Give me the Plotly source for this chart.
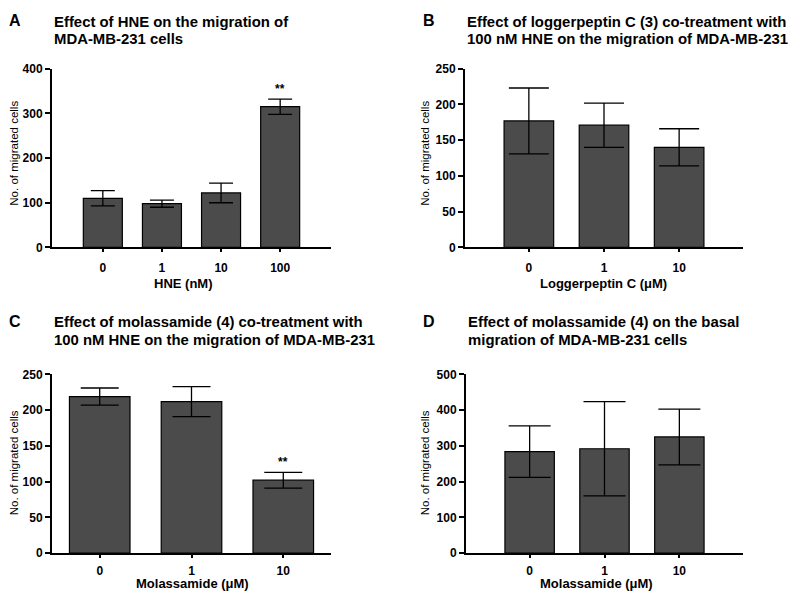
import plotly.graph_objects as go

# -- Panel A: HNE dose
hne_doses = ["0", "1", "10", "100"]
hne_cells = [110, 98, 122, 315]
hne_err = [17, 8, 22, 17]

# -- Panel B: loggerpeptin C + 100 nM HNE
logger_doses = ["0", "1", "10"]
logger_cells = [177, 171, 140]
logger_err = [46, 31, 26]

# -- Panel C: molassamide + 100 nM HNE
mola_hne_doses = ["0", "1", "10"]
mola_hne_cells = [219, 212, 102]
mola_hne_err = [12, 21, 11]

# -- Panel D: molassamide basal
mola_doses = ["0", "1", "10"]
mola_cells = [284, 292, 325]
mola_err = [72, 132, 78]

W, H = 800, 600
OFF = 8  # the page puts the figure 8 px in from the top-left corner
FONT = "Liberation Sans, Arial, sans-serif"
BAR_FILL = "#4b4b4b"


def px(x):
    return (x - OFF) / W


def py(y):
    return 1 - (y - OFF) / H


panels = [
    dict(cats=hne_doses, vals=hne_cells, errs=hne_err, ymax=400, dtick=100,
         xdom=(52, 331), ydom=(63, 246), cap=12, pad=0.86, stars=[3], so=5),
    dict(cats=logger_doses, vals=logger_cells, errs=logger_err, ymax=250, dtick=50,
         xdom=(465, 743), ydom=(63, 246), cap=20, pad=0.85, stars=[], so=5),
    dict(cats=mola_hne_doses, vals=mola_hne_cells, errs=mola_hne_err, ymax=250, dtick=50,
         xdom=(52, 331), ydom=(376, 559), cap=19, pad=0.52, stars=[2], so=2),
    dict(cats=mola_doses, vals=mola_cells, errs=mola_err, ymax=500, dtick=100,
         xdom=(466, 743), ydom=(376, 559), cap=21, pad=0.85, stars=[], so=2),
]

fig = go.Figure()
layout = {}
annotations = []

for i, p in enumerate(panels, start=1):
    xa = "x" if i == 1 else f"x{i}"
    ya = "y" if i == 1 else f"y{i}"
    n = len(p["cats"])
    fig.add_trace(go.Bar(
        x=list(range(n)), y=p["vals"], xaxis=xa, yaxis=ya,
        width=0.66,
        marker=dict(color=BAR_FILL, line=dict(color="black", width=1.2)),
        error_y=dict(type="data", array=p["errs"], visible=True,
                     color="black", thickness=1.3, width=p["cap"]),
        showlegend=False, hoverinfo="skip",
    ))
    layout[f"xaxis{'' if i == 1 else i}"] = dict(
        domain=[px(p["xdom"][0]), px(p["xdom"][1])],
        anchor=ya, range=[-p["pad"], n - 1 + p["pad"]],
        tickmode="array", tickvals=list(range(n)), ticktext=p["cats"],
        showline=True, linecolor="black", linewidth=2,
        ticks="outside", ticklen=3, tickwidth=1.5, tickcolor="black",
        ticklabelstandoff=p["so"],
        showgrid=False, zeroline=False,
        tickfont=dict(family=FONT, size=12, color="black", weight="bold"),
    )
    layout[f"yaxis{'' if i == 1 else i}"] = dict(
        domain=[py(p["ydom"][1]), py(p["ydom"][0])],
        anchor=xa, range=[0, p["ymax"]], dtick=p["dtick"],
        showline=True, linecolor="black", linewidth=2,
        ticks="outside", ticklen=5, tickwidth=1.5, tickcolor="black",
        showgrid=False, zeroline=False,
        tickfont=dict(family=FONT, size=12, color="black", weight="bold"),
    )
    for s in p["stars"]:
        annotations.append(dict(
            x=s, y=p["vals"][s] + p["errs"][s], xref=xa, yref=ya,
            text="**", showarrow=False, yanchor="bottom", yshift=1,
            font=dict(family=FONT, size=12, color="black", weight="bold"),
        ))

# -- Panel letters (level with the first title line)
letters = [("A", 15, 14), ("B", 429, 14), ("C", 15, 322), ("D", 429, 322)]
for txt, x, y in letters:
    annotations.append(dict(
        x=px(x), y=py(y), xref="paper", yref="paper", text=txt, showarrow=False,
        xanchor="center", yanchor="middle",
        font=dict(family=FONT, size=16, color="black", weight="bold"),
    ))

# -- Titles, one annotation per line
title_lines = [
    ("Effect of HNE on the migration of", 52, 15),
    ("MDA-MB-231 cells", 52, 33),
    ("Effect of loggerpeptin C (3) co-treatment with", 465, 15),
    ("100 nM HNE on the migration of MDA-MB-231", 465, 33),
    ("Effect of molassamide (4) co-treatment with", 52, 322),
    ("100 nM HNE on the migration of MDA-MB-231", 52, 341),
    ("Effect of molassamide (4) on the basal", 466, 322),
    ("migration of MDA-MB-231 cells", 466, 341),
]
for txt, x, y in title_lines:
    annotations.append(dict(
        x=px(x), y=py(y), xref="paper", yref="paper", text=txt, showarrow=False,
        xanchor="left", yanchor="middle", align="left",
        font=dict(family=FONT, size=14.9, color="black", weight="bold"),
    ))

# -- Axis titles
y_titles = [(14, 150), (425, 150), (14, 467), (425, 467)]
for x, y in y_titles:
    annotations.append(dict(
        x=px(x), y=py(y), xref="paper", yref="paper", text="No. of migrated cells",
        showarrow=False, textangle=-90, xanchor="center", yanchor="middle",
        font=dict(family=FONT, size=11.5, color="black"),
    ))

x_titles = [("HNE (nM)", 183, 283), ("Loggerpeptin C (μM)", 603, 283),
            ("Molassamide (μM)", 192, 590), ("Molassamide (μM)", 596, 590)]
for txt, x, y in x_titles:
    annotations.append(dict(
        x=px(x), y=py(y), xref="paper", yref="paper", text=txt, showarrow=False,
        xanchor="center", yanchor="middle",
        font=dict(family=FONT, size=13, color="black", weight="bold"),
    ))

fig.update_layout(
    width=W, height=H,
    margin=dict(l=0, r=0, t=0, b=0),
    paper_bgcolor="white", plot_bgcolor="white",
    annotations=annotations,
    **layout,
)

fig.write_html("out.html")
